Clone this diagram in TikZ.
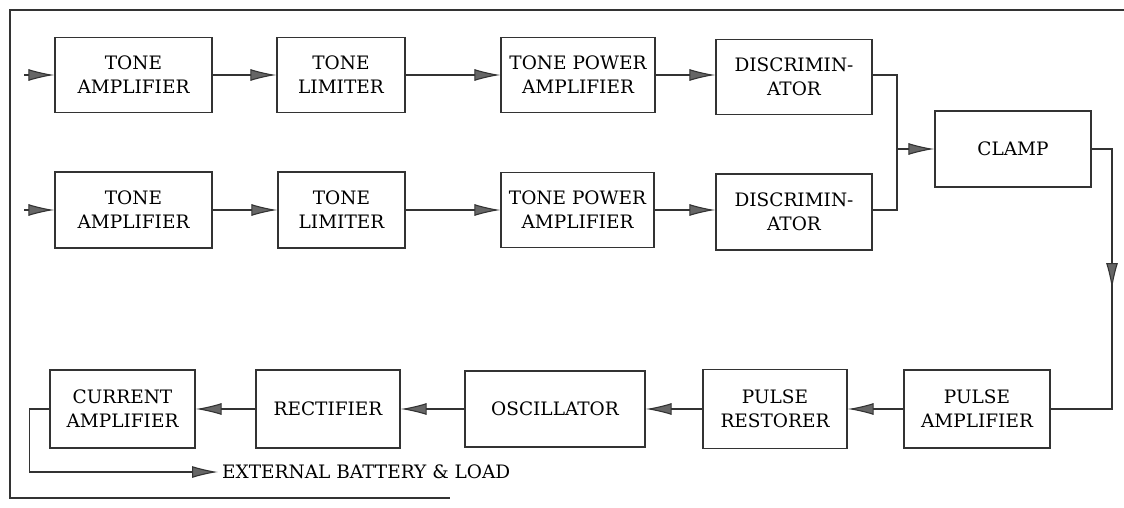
\documentclass[tikz,border=0pt]{standalone}
\usepackage{fontspec}
\setmainfont{DejaVu Serif}
\usetikzlibrary{arrows.meta,positioning}

\begin{document}
\begin{tikzpicture}[
  x=1pt, y=-1pt,
  font=\fontsize{18.5}{24}\selectfont,
  blk/.style={draw=black!80, line width=1.3pt, align=center, inner sep=2pt},
  wire/.style={draw=black!80, line width=1.1pt},
  arr/.style={wire, -{Latex[length=26pt, width=12pt, fill=black!60]}}
]
\useasboundingbox (0,0) rectangle (1124,508);
% frame, open on the right as in the print
\draw[wire, line width=1.3pt] (1124,10) -- (10,10) -- (10,498) -- (450,498);

% upper channel
\node[blk, minimum width=157, minimum height=75] (ta1) at (133.5,75) {TONE\\AMPLIFIER};
\node[blk, minimum width=128, minimum height=75] (tl1) at (341,75) {TONE\\LIMITER};
\node[blk, minimum width=154, minimum height=75] (tp1) at (578,75) {TONE POWER\\AMPLIFIER};
\node[blk, minimum width=156, minimum height=75] (d1) at (794,77) {DISCRIMIN-\\ATOR};
% lower channel
\node[blk, minimum width=157, minimum height=76] (ta2) at (133.5,210) {TONE\\AMPLIFIER};
\node[blk, minimum width=127, minimum height=76] (tl2) at (341.5,210) {TONE\\LIMITER};
\node[blk, minimum width=153, minimum height=75] (tp2) at (577.5,210) {TONE POWER\\AMPLIFIER};
\node[blk, minimum width=156, minimum height=76] (d2) at (794,212) {DISCRIMIN-\\ATOR};
\node[blk, minimum width=156, minimum height=76] (clamp) at (1013,149) {CLAMP};
% return row
\node[blk, minimum width=146, minimum height=78] (pa) at (977,409) {PULSE\\AMPLIFIER};
\node[blk, minimum width=144, minimum height=79] (pr) at (775,409) {PULSE\\RESTORER};
\node[blk, minimum width=180, minimum height=76] (osc) at (555,409) {OSCILLATOR};
\node[blk, minimum width=144, minimum height=78] (rect) at (328,409) {RECTIFIER};
\node[blk, minimum width=145, minimum height=78] (ca) at (122.5,409) {CURRENT\\AMPLIFIER};
\node[anchor=west, inner sep=0pt] (ext) at (222,472) {EXTERNAL BATTERY \& LOAD};

\coordinate (in1) at (24,75);
\coordinate (in2) at (24,210);
\coordinate (jn) at (897,149);
\coordinate (cr) at (1112,149);

\draw[arr] (in1) -- (ta1);
\draw[arr] (ta1) -- (tl1);
\draw[arr] (tl1) -- (tp1);
\draw[arr] (tp1) -- (d1.west |- tp1);
\draw[arr] (in2) -- (ta2);
\draw[arr] (ta2) -- (tl2);
\draw[arr] (tl2) -- (tp2);
\draw[arr] (tp2) -- (d2.west |- tp2);

\draw[wire] (d1.east |- tp1) -| (jn) |- (d2.east |- tp2);
\draw[arr] (jn) -- (clamp);

\draw[wire] (clamp.east) -- (cr) |- (pa.east);
\draw[arr] (cr) -- ++(0,140);

\draw[arr] (pa) -- (pr);
\draw[arr] (pr) -- (osc);
\draw[arr] (osc) -- (rect);
\draw[arr] (rect) -- (ca);

\draw[arr] (ca.west) -- ++(-20,0) |- ([xshift=-4pt]ext.west);
\end{tikzpicture}
\end{document}
